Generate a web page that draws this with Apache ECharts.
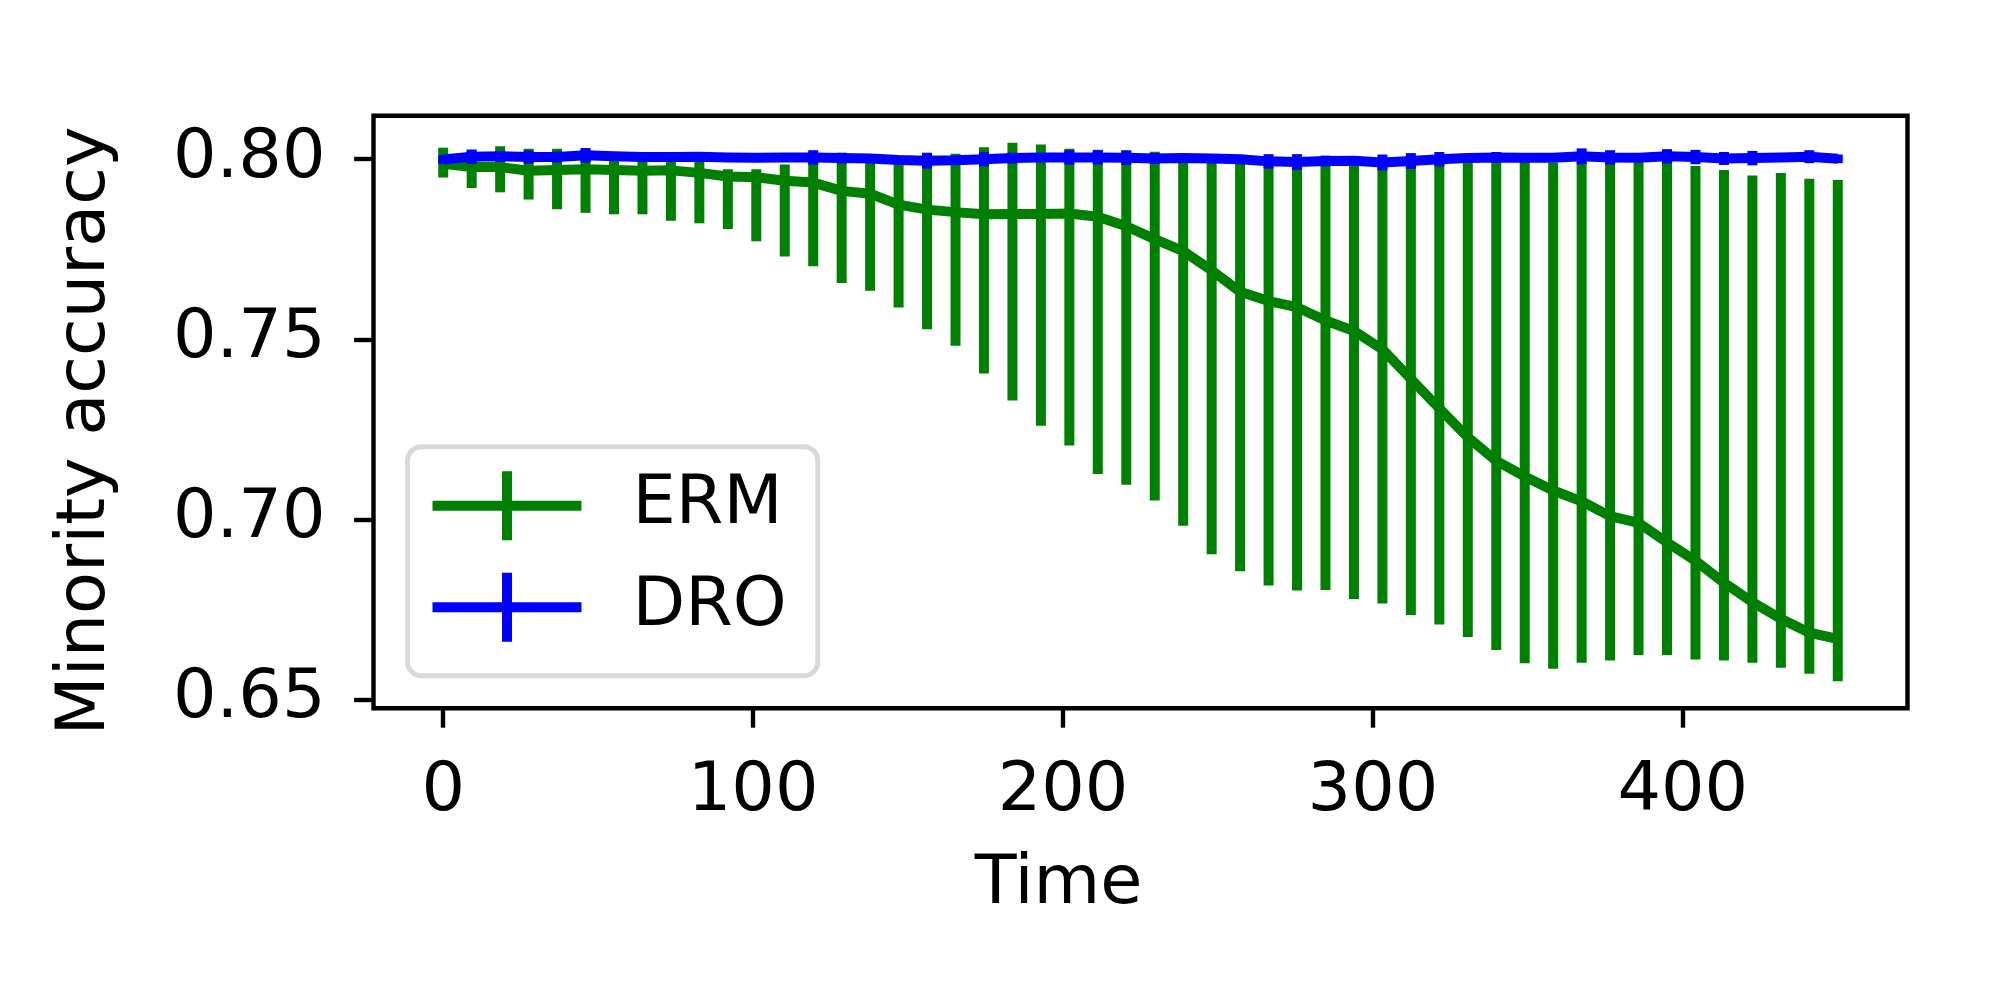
<!DOCTYPE html>
<html>
<head>
<meta charset="utf-8">
<script src="https://cdn.jsdelivr.net/npm/echarts@6/dist/echarts.min.js"></script>
<style>
html,body{margin:0;padding:0;background:#fff;}
#chart{width:2000px;height:1000px;}
</style>
</head>
<body>
<div id="chart"></div>
<script>
// ---------- data ----------
const times = [0, 9.18, 18.37, 27.55, 36.73, 45.92, 55.10, 64.29, 73.47, 82.65,
  91.84, 101.02, 110.20, 119.39, 128.57, 137.76, 146.94, 156.12, 165.31, 174.49,
  183.67, 192.86, 202.04, 211.22, 220.41, 229.59, 238.78, 247.96, 257.14, 266.33,
  275.51, 284.69, 293.88, 303.06, 312.24, 321.43, 330.61, 339.80, 348.98, 358.16,
  367.35, 376.53, 385.71, 394.90, 404.08, 413.27, 422.45, 431.63, 440.82, 450];

const ermMean = [0.7987, 0.7978, 0.7978, 0.7968, 0.7970, 0.7972, 0.7970, 0.7968, 0.7969, 0.7962,
  0.7952, 0.7950, 0.7940, 0.7935, 0.7912, 0.7904, 0.7874, 0.7860, 0.7853, 0.7847,
  0.7848, 0.7848, 0.7849, 0.7840, 0.7814, 0.7778, 0.7745, 0.7691, 0.7632, 0.7606,
  0.7589, 0.7552, 0.7523, 0.7472, 0.7390, 0.7308, 0.7228, 0.7162, 0.7119, 0.7080,
  0.7050, 0.7009, 0.6990, 0.6936, 0.6885, 0.6824, 0.6770, 0.6724, 0.6685, 0.6668];

const ermLow = [0.7949, 0.7920, 0.7908, 0.7888, 0.7861, 0.7851, 0.7847, 0.7847, 0.7829, 0.7822,
  0.7806, 0.7772, 0.7730, 0.7703, 0.7656, 0.7635, 0.7588, 0.7528, 0.7482, 0.7405,
  0.7330, 0.7260, 0.7205, 0.7126, 0.7096, 0.7052, 0.6982, 0.6903, 0.6856, 0.6816,
  0.6802, 0.6804, 0.6779, 0.6766, 0.6734, 0.6708, 0.6673, 0.6637, 0.6600, 0.6585,
  0.6602, 0.6608, 0.6623, 0.6623, 0.6611, 0.6608, 0.6602, 0.6588, 0.6571, 0.6550];

const ermHigh = [0.8032, 0.8024, 0.8036, 0.8029, 0.8029, 0.8027, 0.8010, 0.8005, 0.8008, 0.8002,
  0.7972, 0.7972, 0.7985, 0.8012, 0.8012, 0.8005, 0.8000, 0.8012, 0.8015, 0.8033,
  0.8046, 0.8041, 0.8029, 0.8026, 0.8025, 0.8021, 0.8008, 0.8006, 0.8005, 0.8003,
  0.8000, 0.8002, 0.8000, 0.7998, 0.8000, 0.8003, 0.8002, 0.8004, 0.7995, 0.7990,
  0.7992, 0.7995, 0.7992, 0.7994, 0.7981, 0.7970, 0.7955, 0.7962, 0.7946, 0.7942];

const droMean = [0.7999, 0.8007, 0.8008, 0.8006, 0.8006, 0.8011, 0.8008, 0.8006, 0.8006, 0.8007,
  0.8005, 0.8004, 0.8005, 0.8005, 0.8003, 0.8002, 0.7998, 0.7996, 0.7997, 0.8000,
  0.8003, 0.8005, 0.8005, 0.8005, 0.8004, 0.8002, 0.8003, 0.8002, 0.8000, 0.7994,
  0.7992, 0.7995, 0.7996, 0.7991, 0.7995, 0.8000, 0.8003, 0.8005, 0.8004, 0.8004,
  0.8008, 0.8005, 0.8004, 0.8008, 0.8006, 0.8002, 0.8003, 0.8005, 0.8007, 0.8001];

const droErr = [0.0012, 0.0020, 0.0015, 0.0018, 0.0015, 0.0020, 0.0012, 0.0012, 0.0012, 0.0012,
  0.0012, 0.0012, 0.0012, 0.0020, 0.0015, 0.0012, 0.0012, 0.0022, 0.0012, 0.0020,
  0.0015, 0.0012, 0.0020, 0.0020, 0.0020, 0.0015, 0.0012, 0.0012, 0.0012, 0.0020,
  0.0022, 0.0015, 0.0012, 0.0022, 0.0022, 0.0020, 0.0012, 0.0015, 0.0012, 0.0012,
  0.0022, 0.0020, 0.0012, 0.0020, 0.0020, 0.0018, 0.0020, 0.0012, 0.0018, 0.0012];

const xTicks = [0, 100, 200, 300, 400];
const yTicks = [0.65, 0.70, 0.75, 0.80];
const seriesNames = ['ERM', 'DRO'];
const xTitle = 'Time';
const yTitle = 'Minority accuracy';

// ---------- style ----------
const GREEN = '#008000', BLUE = '#0000ff';
const FONT = 'DejaVu Sans';
const FS = 68.5;
const LW = 10;
const plusIcon = 'path://M0,29.5L149,29.5L149,39.5L0,39.5Z M69.5,0L79.5,0L79.5,69L69.5,69Z';

function errRenderer(color) {
  return function (params, api) {
    const x = api.value(0);
    const p1 = api.coord([x, api.value(1)]);
    const p2 = api.coord([x, api.value(2)]);
    return {
      type: 'line',
      shape: { x1: p1[0], y1: p1[1], x2: p2[0], y2: p2[1] },
      style: { stroke: color, lineWidth: LW, lineCap: 'butt' }
    };
  };
}

const chart = echarts.init(document.getElementById('chart'), null, { renderer: 'canvas' });

const option = {
  animation: false,
  backgroundColor: '#ffffff',
  textStyle: { fontFamily: FONT },
  grid: {
    left: 373.5, right: 92.5, top: 115.7, bottom: 291.7,
    show: true, borderColor: '#000', borderWidth: 4.4, backgroundColor: 'transparent',
    containLabel: false
  },
  xAxis: {
    type: 'value', min: -22.5, max: 472.5,
    name: xTitle, nameLocation: 'middle', nameGap: 142,
    nameTextStyle: { fontSize: FS, color: '#000', fontFamily: FONT, padding: [0, 164, 0, 0] },
    axisLine: { show: false, onZero: false },
    splitLine: { show: false },
    axisTick: { show: true, length: 19.4, lineStyle: { color: '#000', width: 4.4 }, customValues: xTicks },
    axisLabel: { show: true, margin: 49, fontSize: FS, color: '#000', fontFamily: FONT,
      customValues: xTicks, formatter: v => String(Math.round(v)) }
  },
  yAxis: {
    type: 'value', min: 0.64752, max: 0.81208,
    name: yTitle, nameLocation: 'middle', nameGap: 253,
    nameTextStyle: { fontSize: FS, color: '#000', fontFamily: FONT, padding: [0, 38, 0, 0] },
    axisLine: { show: false, onZero: false },
    splitLine: { show: false },
    axisTick: { show: true, length: 19.4, lineStyle: { color: '#000', width: 4.4 }, customValues: yTicks },
    axisLabel: { show: true, margin: 48, fontSize: FS, color: '#000', fontFamily: FONT,
      customValues: yTicks, formatter: v => v.toFixed(2) }
  },
  legend: {
    orient: 'vertical',
    left: 407.5, top: 446.7,
    padding: [24.5, 31, 34, 25],
    itemWidth: 149, itemHeight: 69, itemGap: 32.6,
    backgroundColor: 'rgba(255,255,255,0.8)',
    borderColor: '#d9d9d9', borderWidth: 5, borderRadius: 14,
    textStyle: { fontSize: FS, color: '#000', fontFamily: FONT, lineHeight: 69, padding: [0, 0, 0, 46] },
    data: [ { name: seriesNames[0], icon: plusIcon }, { name: seriesNames[1], icon: plusIcon } ]
  },
  series: [
    {
      name: seriesNames[0], type: 'line', z: 2,
      data: times.map((t, i) => [t, ermMean[i]]),
      showSymbol: false, symbol: 'none', silent: true,
      itemStyle: { color: GREEN },
      lineStyle: { color: GREEN, width: LW, join: 'round', cap: 'butt' },
      emphasis: { disabled: true }
    },
    {
      name: seriesNames[0] + ' err', type: 'custom', z: 2,
      data: times.map((t, i) => [t, ermLow[i], ermHigh[i]]),
      encode: { x: 0, y: [1, 2] },
      renderItem: errRenderer(GREEN), silent: true
    },
    {
      name: seriesNames[1], type: 'line', z: 3,
      data: times.map((t, i) => [t, droMean[i]]),
      showSymbol: false, symbol: 'none', silent: true,
      itemStyle: { color: BLUE },
      lineStyle: { color: BLUE, width: LW, join: 'round', cap: 'butt' },
      emphasis: { disabled: true }
    },
    {
      name: seriesNames[1] + ' err', type: 'custom', z: 3,
      data: times.map((t, i) => [t, droMean[i] - droErr[i], droMean[i] + droErr[i]]),
      encode: { x: 0, y: [1, 2] },
      renderItem: errRenderer(BLUE), silent: true
    }
  ]
};
chart.setOption(option);
</script>
</body>
</html>
